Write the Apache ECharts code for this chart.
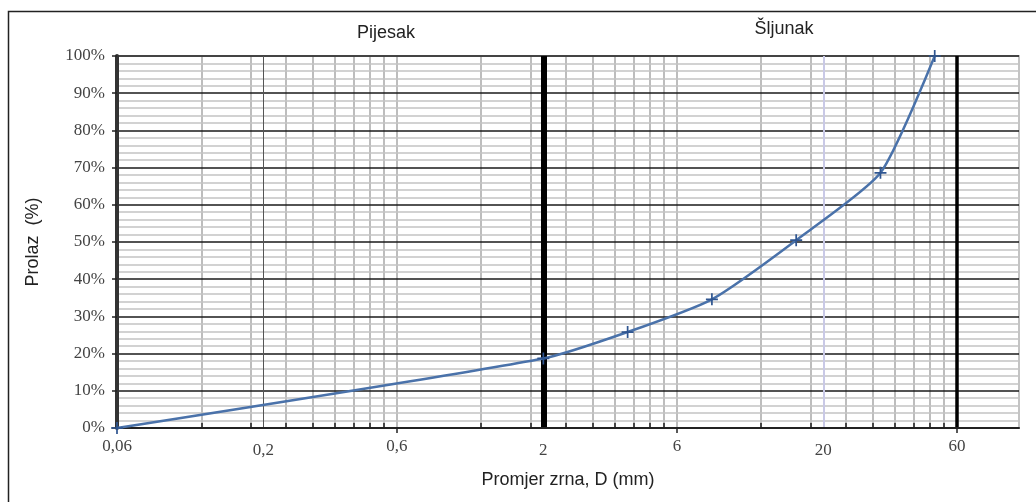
<!DOCTYPE html>
<html>
<head>
<meta charset="utf-8">
<title>Granulometrijska krivulja</title>
<script src="https://cdn.jsdelivr.net/npm/echarts@6.0.0/dist/echarts.min.js"></script>
<style>
  html, body { margin: 0; padding: 0; background: #fff; }
  #chart { width: 1036px; height: 502px; }
</style>
</head>
<body>
<div id="chart"></div>
<script>
// promjer zrna D (mm) i prolaz (%)
const sieveSizes = [0.06, 2, 4, 8, 16, 32, 50];
const passing = [0, 18.7, 25.8, 34.6, 50.5, 68.6, 100];

// oznake na x osi
const majorLabels = [0.06, 0.6, 6, 60];
const boundaryLabels = [0.2, 2, 20];
const majorTicks = [0.6, 6, 60];
const minorTicks = [
  0.12, 0.18, 0.24, 0.3, 0.36, 0.42, 0.48, 0.54,
  1.2, 1.8, 2.4, 3, 3.6, 4.2, 4.8, 5.4,
  12, 18, 24, 30, 36, 42, 48, 54
];
const gridLines = minorTicks.concat([0.6, 6]);
// granice frakcija
const boundaryLines = [0.2, 2, 20, 60];
const boundaryStyles = [
  { color: '#555', width: 1, type: 'solid' },
  { color: '#000', width: 6, type: 'solid' },
  { color: '#c9c9e6', width: 2, type: 'solid' },
  { color: '#000', width: 3.5, type: 'solid' }
];

const serif = 'Liberation Serif';
const sans = 'Liberation Sans';
const comma = v => String(+Number(v).toFixed(4)).replace('.', ',');

const logBase = { type: 'log', logBase: 10, min: 0.06, max: 100, gridIndex: 0, position: 'bottom' };

const chart = echarts.init(document.getElementById('chart'));

const option = {
  animation: false,
  backgroundColor: '#fff',
  grid: {
    left: 117, right: 17, top: 56, bottom: 74,
    show: true, borderColor: '#c4c4c4', borderWidth: 2, backgroundColor: '#fff',
    outerBoundsMode: 'none'
  },
  xAxis: [
    Object.assign({}, logBase, {
      z: 3,
      axisLine: { show: true, lineStyle: { color: '#222', width: 2 } },
      axisTick: { show: true, customValues: majorTicks, inside: false, length: 5, lineStyle: { color: '#222', width: 1.5 } },
      axisLabel: { customValues: majorLabels, formatter: comma, margin: 10, fontFamily: serif, fontSize: 17, color: '#444' },
      splitLine: { show: false },
      name: 'Promjer zrna, D (mm)',
      nameLocation: 'middle',
      nameGap: 43,
      nameTextStyle: { fontFamily: sans, fontSize: 18, color: '#222' }
    }),
    Object.assign({}, logBase, {
      z: 3,
      axisLine: { show: false },
      axisTick: { show: false },
      axisLabel: { customValues: boundaryLabels, formatter: comma, margin: 14, fontFamily: serif, fontSize: 17, color: '#444' },
      splitLine: { show: false }
    }),
    Object.assign({}, logBase, {
      z: 3,
      axisLine: { show: false },
      axisTick: { show: true, customValues: minorTicks, inside: true, length: 5, lineStyle: { color: '#222', width: 1.5 } },
      axisLabel: { show: false },
      splitLine: { show: false }
    }),
    Object.assign({}, logBase, {
      z: 0,
      axisLine: { show: false },
      axisTick: { show: true, customValues: gridLines, inside: true, length: 372, lineStyle: { color: '#bdbdbd', width: 2 } },
      axisLabel: { show: false },
      splitLine: { show: false }
    })
  ],
  yAxis: {
    type: 'value',
    min: 0,
    max: 100,
    interval: 10,
    z: 1,
    axisLine: { show: true, lineStyle: { color: '#333', width: 4 } },
    axisTick: { show: true, length: 5, lineStyle: { color: '#222', width: 1.5 } },
    axisLabel: { formatter: '{value}%', fontFamily: serif, fontSize: 17, color: '#444', margin: 12 },
    splitLine: { show: true, lineStyle: { color: '#1a1a1a', width: 1.5 } },
    minorTick: { show: false, splitNumber: 5 },
    minorSplitLine: { show: true, lineStyle: { color: '#c4c4c4', width: 1.5 } },
    name: 'Prolaz  (%)',
    nameLocation: 'middle',
    nameGap: 75,
    nameRotate: 90,
    nameTextStyle: { fontFamily: sans, fontSize: 18, color: '#222' }
  },
  series: [{
    type: 'line',
    xAxisIndex: 0,
    yAxisIndex: 0,
    z: 4,
    data: sieveSizes.map((d, i) => [d, passing[i]]),
    smooth: 0.2,
    symbol: 'path://M-1,-7H1V-1H7V1H1V7H-1V1H-7V-1H-1Z',
    symbolSize: 12,
    itemStyle: { color: '#2f5590' },
    lineStyle: { color: '#4a72aa', width: 2.5 },
    markLine: {
      z: 2,
      silent: true,
      symbol: 'none',
      label: { show: false },
      data: boundaryLines.map((v, i) => ({ xAxis: v, lineStyle: boundaryStyles[i] }))
    }
  }],
  graphic: [
    {
      type: 'rect', silent: true, z: -10,
      shape: { x: 8.5, y: 11.5, width: 1100, height: 600 },
      style: { fill: 'none', stroke: '#222', lineWidth: 1.5 }
    },
    {
      type: 'text', x: 386, y: 33, silent: true,
      style: { text: 'Pijesak', font: '18px "Liberation Sans"', fill: '#222', align: 'center', verticalAlign: 'middle', textAlign: 'center', textVerticalAlign: 'middle' }
    },
    {
      type: 'text', x: 784, y: 29, silent: true,
      style: { text: 'Šljunak', font: '18px "Liberation Sans"', fill: '#222', align: 'center', verticalAlign: 'middle', textAlign: 'center', textVerticalAlign: 'middle' }
    }
  ]
};

chart.setOption(option);
</script>
</body>
</html>
